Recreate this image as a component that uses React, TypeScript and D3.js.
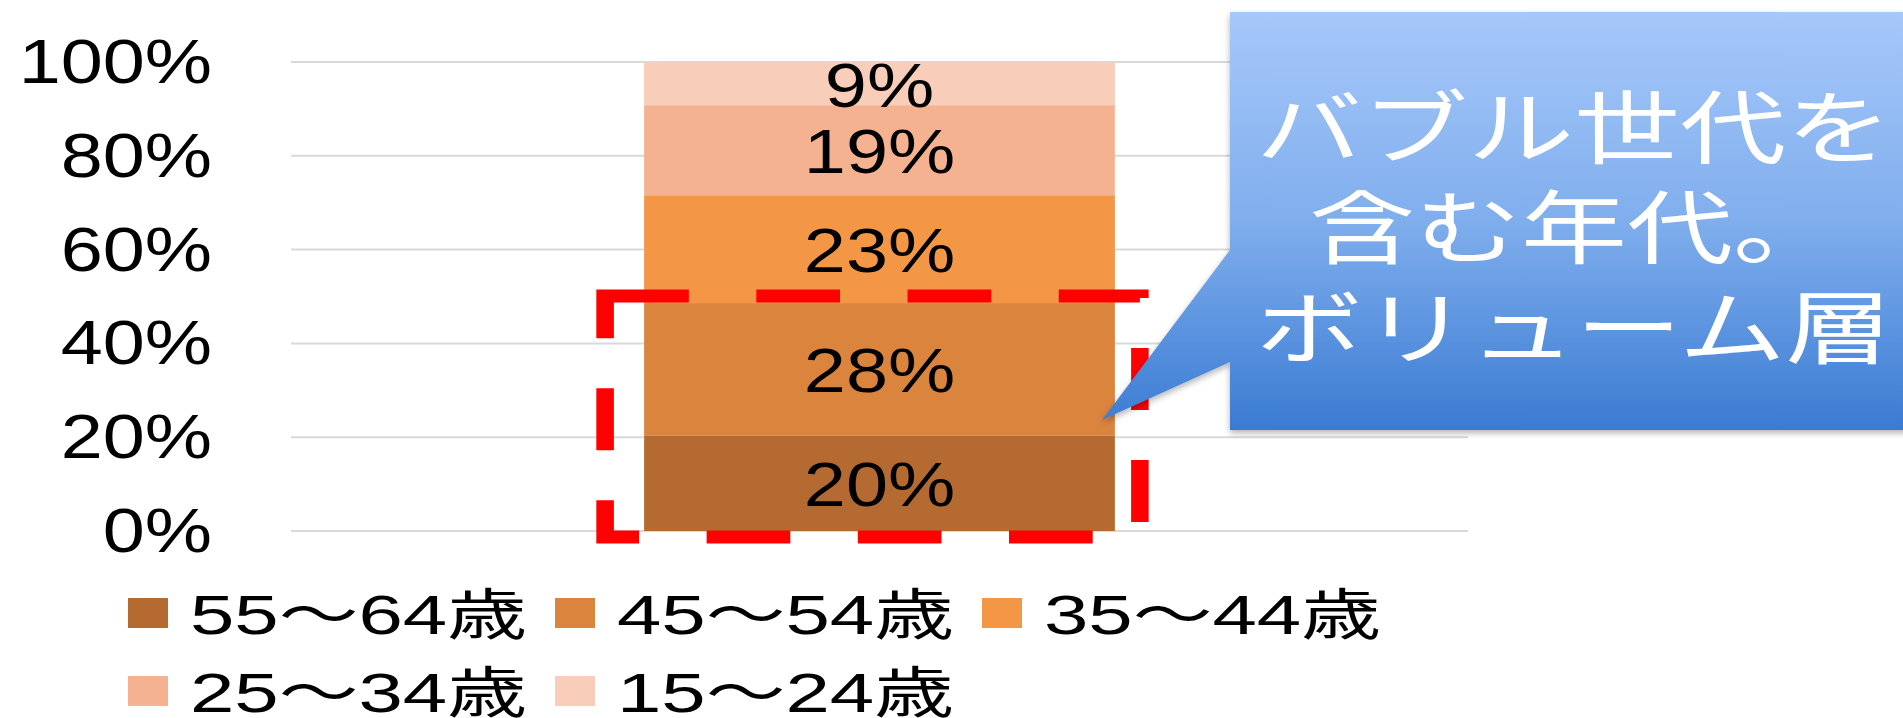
import React from 'react';
import * as d3 from 'd3';

const categories = ['全体'];
const seriesNames = ['55～64歳', '45～54歳', '35～44歳', '25～34歳', '15～24歳'];
const seriesValues = [20.4, 28.2, 23.0, 19.2, 9.2];
const seriesColors = ['#B46A30', '#DA843E', '#F39746', '#F5B291', '#F8CDB9'];
const yTicks = [0, 20, 40, 60, 80, 100];
const calloutLines = ['バブル世代を', '含む年代。', 'ボリューム層'];

const W = 1903;
const H = 718;
const FONT = "'Liberation Sans', Arial, 'Noto Sans CJK JP', sans-serif";
const CJK = "'Noto Sans CJK JP', 'Noto Sans CJK SC', sans-serif";

export default function App() {
  const y = d3.scaleLinear().domain([0, 100]).range([531, 62]);
  const x = d3
    .scaleBand<string>()
    .domain(categories)
    .range([291, 1468])
    .paddingInner(0.4286)
    .paddingOuter(0.4286);

  const row: Record<string, number | string> = { cat: categories[0] };
  seriesNames.forEach((n, i) => (row[n] = seriesValues[i]));
  const stack = d3.stack<any>().keys(seriesNames)([row]);

  const bx = x(categories[0]) as number;
  const bw = x.bandwidth();

  // dashed highlight around bottom two segments
  const hlTop = y(seriesValues[0] + seriesValues[1]) - 7;
  const hlBottom = y(0) + 6;
  const hlLeft = bx - 39;
  const hlRight = bx + bw + 25;
  const sx = 1.35;

  const legendX = (i: number) => 128 + (i % 3) * 427;
  const legendY = (i: number) => 613 + Math.floor(i / 3) * 78;

  return (
    <svg
      width={W}
      height={H}
      style={{ position: 'absolute', left: 0, top: 0, background: '#fff' }}
    >
      <defs>
        <linearGradient id="cg" x1="0" y1="0" x2="0" y2="1">
          <stop offset="0" stopColor="#A6C8FA" />
          <stop offset="0.5" stopColor="#80AEED" />
          <stop offset="1" stopColor="#3A7BD2" />
        </linearGradient>
        <filter id="sh" x="-10%" y="-10%" width="120%" height="130%">
          <feDropShadow dx="0" dy="3" stdDeviation="3" floodColor="#000" floodOpacity="0.3" />
        </filter>
      </defs>

      {/* gridlines */}
      {yTicks.map((t) => (
        <line
          key={'g' + t}
          x1={291}
          x2={1468}
          y1={y(t)}
          y2={y(t)}
          stroke="#D9D9D9"
          strokeWidth={2}
        />
      ))}

      {/* y tick labels */}
      {yTicks.map((t) => (
        <text
          key={'t' + t}
          transform={`translate(212,${y(t) + 21}) scale(1.2,1)`}
          textAnchor="end"
          fontFamily={FONT}
          fontSize={63}
          fill="#000"
        >
          {d3.format('d')(t) + '%'}
        </text>
      ))}

      {/* stacked bar */}
      {stack.map((s, i) => {
        const d = s[0];
        const y0 = y(d[0]);
        const y1 = y(d[1]);
        return (
          <g key={'s' + i}>
            <rect x={bx} y={y1} width={bw} height={y0 - y1} fill={seriesColors[i]} />
            <text
              transform={`translate(${bx + bw / 2},${(y0 + y1) / 2 + 23}) scale(1.2,1)`}
              textAnchor="middle"
              fontFamily={FONT}
              fontSize={63}
              fill="#000"
            >
              {Math.round(seriesValues[i]) + '%'}
            </text>
          </g>
        );
      })}

      {/* dashed red highlight */}
      <g transform={`translate(${hlLeft},${hlTop}) scale(${sx},1)`}>
        <path
          d={`M0,0 H${(hlRight - hlLeft) / sx} V${hlBottom - hlTop} H0 Z`}
          fill="none"
          stroke="#FF0000"
          strokeWidth={13}
          strokeDasharray="62 50"
        />
      </g>

      {/* callout */}
      <path
        d="M1230,12 H1912 V430 H1230 V362 L1102,420 L1230,250 Z"
        fill="url(#cg)"
        filter="url(#sh)"
      />
      {calloutLines.map((l, i) => (
        <text
          key={'c' + i}
          x={1574}
          y={122 + i * 100}
          textAnchor="middle"
          dominantBaseline="central"
          fontFamily={CJK}
          fontSize={80}
          fill="#fff"
          textLength={l.length * 106}
          lengthAdjust="spacingAndGlyphs"
        >
          {l}
        </text>
      ))}

      {/* legend */}
      {seriesNames.map((n, i) => (
        <g key={'l' + i}>
          <rect x={legendX(i)} y={legendY(i) - 15} width={40} height={30} fill={seriesColors[i]} />
          <text
            x={legendX(i) + 62}
            y={legendY(i) + 21}
            fontFamily={FONT}
            fontSize={55}
            fill="#000"
            textLength={337}
            lengthAdjust="spacingAndGlyphs"
          >
            {n}
          </text>
        </g>
      ))}
    </svg>
  );
}
